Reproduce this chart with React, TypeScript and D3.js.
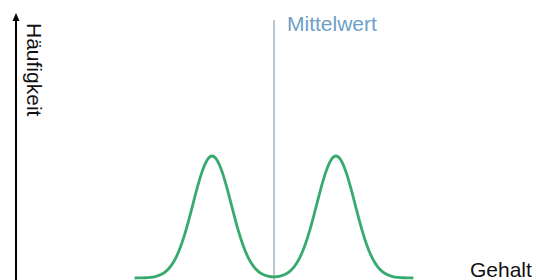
import React from "react";
import * as d3 from "d3";

// Gehalt (x) und Häufigkeit (y)
const gehalt = [
  23, 24, 25, 26, 27, 28, 29, 30, 31, 32, 33, 34, 35, 36, 37, 38, 39, 40, 41, 42, 43, 44, 45, 46, 47, 48, 49,
  50,
  51, 52, 53, 54, 55, 56, 57, 58, 59, 60, 61, 62, 63, 64, 65, 66, 67, 68, 69, 70, 71, 72, 73, 74, 75, 76, 77,
];
const haeufigkeit = [
  0, 0.001, 0.002, 0.005, 0.012, 0.026, 0.052, 0.097, 0.167, 0.269, 0.401, 0.558, 0.72, 0.864, 0.964, 1,
  0.964, 0.864, 0.72, 0.558, 0.401, 0.269, 0.167, 0.097, 0.052, 0.027, 0.014,
  0.01,
  0.014, 0.027, 0.052, 0.097, 0.167, 0.269, 0.401, 0.558, 0.72, 0.864, 0.964, 1, 0.964, 0.864, 0.72, 0.558,
  0.401, 0.269, 0.167, 0.097, 0.052, 0.026, 0.012, 0.005, 0.002, 0.001, 0,
];
const mittelwert = 50;

const xLabel = "Gehalt";
const yLabel = "Häufigkeit";
const meanLabel = "Mittelwert";

const W = 536;
const H = 280;

export default function App() {
  const x = d3.scaleLinear().domain([0, 100]).range([16, 532]);
  const y = d3.scaleLinear().domain([0, 1]).range([278, 156]);

  const points: [number, number][] = gehalt.map((g, i) => [g, haeufigkeit[i]]);
  const line = d3
    .line<[number, number]>()
    .x((d) => x(d[0]))
    .y((d) => y(d[1]))
    .curve(d3.curveMonotoneX);

  const font = "'Liberation Sans', Arial, sans-serif";

  return (
    <div style={{ position: "absolute", left: 0, top: 0 }}>
      <svg width={W} height={H} style={{ display: "block", background: "#fff" }}>
        {/* Mittelwert-Linie */}
        <line x1={x(mittelwert)} x2={x(mittelwert)} y1={20} y2={H} stroke="#aab9c5" strokeWidth={1.6} />
        <text x={x(mittelwert) + 13} y={31} fontFamily={font} fontSize={21} fill="#6d9fc8">
          {meanLabel}
        </text>

        {/* Verteilung */}
        <path d={line(points) || ""} fill="none" stroke="#37aa6d" strokeWidth={2.8} />

        {/* y-Achse mit Pfeil */}
        <line x1={16} x2={16} y1={H} y2={20} stroke="#000" strokeWidth={2} />
        <path d="M16,13 L12.5,21 L19.5,21 Z" fill="#000" />
        <text
          transform="translate(27,23) rotate(90)"
          fontFamily={font}
          fontSize={21}
          fill="#111"
        >
          {yLabel}
        </text>

        <text x={470} y={277} fontFamily={font} fontSize={21} fill="#111">
          {xLabel}
        </text>
      </svg>
    </div>
  );
}
